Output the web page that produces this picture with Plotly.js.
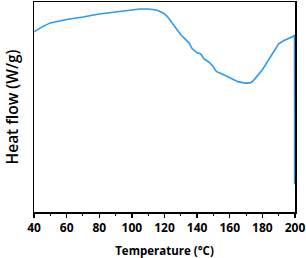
<!DOCTYPE html>
<html><head><meta charset="utf-8">
<script src="https://cdn.plot.ly/plotly-3.0.1.min.js"></script>
<style>html,body{margin:0;padding:0;background:#fff}#c{width:306px;height:258px}</style>
</head><body><div id="c"></div>
<script>
var temperature = [40, 45, 50, 55, 60, 70, 80, 90, 100, 105, 110, 115, 118, 120, 122, 125, 130, 135, 137, 140, 142, 143, 144, 147, 150, 151, 152, 155, 160, 165, 168, 170, 173, 175, 180, 185, 190, 193, 196, 199, 199.6, 199.7, 199.8];
var heatFlow = [181, 186, 190, 192, 193.5, 196, 199, 201, 203, 204, 204, 203, 201, 199, 196, 189, 178, 170, 164, 160, 159, 157, 154, 151, 146, 143, 141, 139, 135, 131, 130, 129.5, 130, 133, 143, 156, 169, 172, 174, 176.5, 178, 174, 28];
var xTicks = [40, 60, 80, 100, 120, 140, 160, 180, 200];

Plotly.newPlot('c', [{
  x: temperature, y: heatFlow, type: 'scatter', mode: 'lines',
  line: {color: '#2b9af0', width: 1.6}, hoverinfo: 'skip'
}], {
  width: 306, height: 258,
  margin: {l: 34, r: 11, t: 2, b: 46},
  paper_bgcolor: '#fff', plot_bgcolor: '#fff',
  showlegend: false,
  font: {family: 'Open Sans, sans-serif', color: '#000'},
  xaxis: {
    range: [40, 200], tickvals: xTicks, ticktext: xTicks.map(String),
    ticks: 'outside', ticklen: 4, tickwidth: 1.3, tickcolor: '#000',
    minor: {dtick: 10, ticks: 'outside', ticklen: 2.5, tickwidth: 1, tickcolor: '#000'},
    showgrid: false, zeroline: false,
    showline: true, linecolor: '#000', linewidth: 1.5, mirror: true,
    tickfont: {size: 12, weight: 'bold', family: 'Open Sans, sans-serif'},
    title: {text: 'Temperature (°C)', font: {size: 11.5, weight: 'bold'}, standoff: 12}
  },
  yaxis: {
    range: [0, 211], showticklabels: false, ticks: '',
    showgrid: false, zeroline: false,
    showline: true, linecolor: '#000', linewidth: 1.5, mirror: true,
    title: {text: 'Heat flow (W/g)', font: {size: 15.5, weight: 600}, standoff: 10}
  }
}, {staticPlot: true});
</script></body></html>
